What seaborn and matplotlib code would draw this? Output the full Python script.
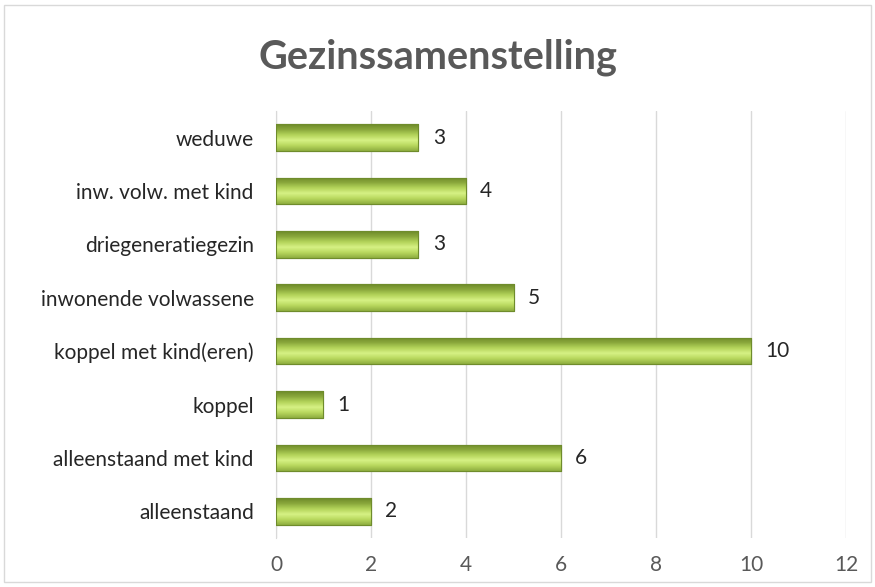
import matplotlib.pyplot as plt
import seaborn as sns
import pandas as pd
import numpy as np
from matplotlib.colors import LinearSegmentedColormap
from matplotlib.patches import Rectangle

# data (top to bottom as shown)
categories = ["weduwe", "inw. volw. met kind", "driegeneratiegezin", "inwonende volwassene",
              "koppel met kind(eren)", "koppel", "alleenstaand met kind", "alleenstaand"]
counts = [3, 4, 3, 5, 10, 1, 6, 2]
x_ticks = [0, 2, 4, 6, 8, 10, 12]

df = pd.DataFrame({"categorie": categories, "aantal": counts})

sns.set_style("white")
plt.rcParams['font.family'] = ['Lato', 'DejaVu Sans']

fig = plt.figure(figsize=(8.75, 5.87), dpi=100)
ax = fig.add_axes([0.3154, 0.0835, 0.6515, 0.7275])

sns.barplot(data=df, y="categorie", x="aantal", orient="h", color="#9bbb59",
            width=0.5, edgecolor="#6f8c2c", linewidth=0.8, ax=ax, zorder=3)

# vertical gradient on each bar (light band in the middle, darker lower edge)
grad = LinearSegmentedColormap.from_list(
    "bevel", ["#8fae40", "#b8d85e", "#d6f184", "#b3d35a", "#8aa83c", "#6e8a2a"])
gimg = np.linspace(0, 1, 64).reshape(-1, 1)
for bar in ax.patches:
    x0, y0 = bar.get_x(), bar.get_y()
    w, h = bar.get_width(), bar.get_height()
    im = ax.imshow(gimg, cmap=grad, aspect="auto", extent=(x0, x0 + w, y0, y0 + h),
                   zorder=4, origin="upper")
    im.set_clip_path(bar)
    ax.add_patch(Rectangle((x0, y0), w, h, fill=False, edgecolor="#6f8c2c",
                           linewidth=0.8, zorder=5))
    ax.text(x0 + w + 0.3, y0 + h / 2, f"{int(w)}", va="center", ha="left",
            fontsize=15, color="#262626", zorder=6)

ax.set_xlim(0, 12)
ax.set_ylim(len(categories) - 0.5, -0.5)
ax.set_xticks(x_ticks)
ax.set_xticklabels([str(t) for t in x_ticks])
ax.grid(axis="x", color="#d9d9d9", linewidth=1, zorder=0)
ax.grid(axis="y", visible=False)
for s in ["top", "right", "bottom"]:
    ax.spines[s].set_visible(False)
ax.spines["left"].set_color("#d9d9d9")
ax.tick_params(axis="x", length=0, labelsize=15, labelcolor="#595959", pad=12)
ax.tick_params(axis="y", length=0, labelsize=15, labelcolor="#262626", pad=16)
ax.set_xlabel("")
ax.set_ylabel("")

fig.text(0.5, 0.902, "Gezinssamenstelling", ha="center", va="center",
         fontsize=28.5, fontweight="bold", color="#595959")

# chart border
fig.patches.append(Rectangle((0.005, 0.008), 0.99, 0.984, transform=fig.transFigure,
                             fill=False, edgecolor="#d9d9d9", linewidth=1))

fig.savefig("out.png", dpi=100)
